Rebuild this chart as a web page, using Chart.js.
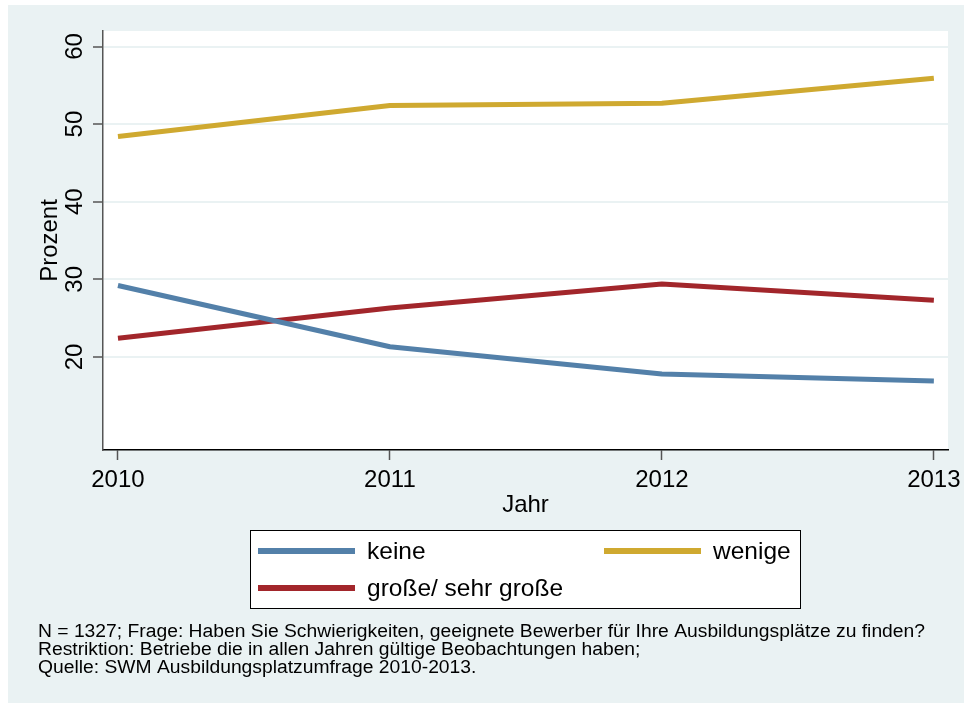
<!DOCTYPE html>
<html>
<head>
<meta charset="utf-8">
<script src="https://cdn.jsdelivr.net/npm/chart.js@4.4.0/dist/chart.umd.min.js"></script>
<style>
  html, body { margin: 0; padding: 0; background: #fff; }
  #wrap { width: 964px; height: 703px; }
</style>
</head>
<body>
<div id="wrap"><canvas id="chart" width="964" height="703"></canvas></div>
<script>
// data
const years = [2010, 2011, 2012, 2013];
const keine = [29.2, 21.3, 17.8, 16.9];
const wenige = [48.4, 52.4, 52.7, 55.9];
const grosse = [22.4, 26.3, 29.4, 27.3];
const yTicks = [20, 30, 40, 50, 60];
const seriesNames = ['keine', 'wenige', 'große/ sehr große'];
const seriesColors = ['#5380A9', '#CFA930', '#A2262B'];
const notes = [
  'N = 1327; Frage: Haben Sie Schwierigkeiten, geeignete Bewerber für Ihre Ausbildungsplätze zu finden?',
  'Restriktion: Betriebe die in allen Jahren gültige Beobachtungen haben;',
  'Quelle: SWM Ausbildungsplatzumfrage 2010-2013.'
];

const FONT = '"Liberation Sans", Arial, sans-serif';
const BG = '#EAF2F3';

function pts(vals) {
  return years.map((yr, i) => ({ x: yr, y: vals[i] }));
}

const bgPlugin = {
  id: 'bg',
  beforeDraw(chart) {
    const ctx = chart.ctx;
    const a = chart.chartArea;
    ctx.save();
    ctx.fillStyle = '#ffffff';
    ctx.fillRect(0, 0, chart.width, chart.height);
    ctx.fillStyle = BG;
    ctx.fillRect(8, 5, chart.width - 8, chart.height - 5);
    ctx.fillStyle = '#ffffff';
    ctx.fillRect(a.left, a.top, a.right - a.left, a.bottom - a.top);
    ctx.restore();
  }
};

const extrasPlugin = {
  id: 'extras',
  afterDraw(chart) {
    const ctx = chart.ctx;
    const ys = chart.scales.y;
    ctx.save();

    // rotated y tick labels
    ctx.fillStyle = '#000';
    ctx.font = '24px ' + FONT;
    ctx.textAlign = 'center';
    ctx.textBaseline = 'middle';
    yTicks.forEach(v => {
      const py = ys.getPixelForValue(v);
      ctx.save();
      ctx.translate(75, py);
      ctx.rotate(-Math.PI / 2);
      ctx.fillText(String(v), 0, 0);
      ctx.restore();
    });

    // legend box
    const bx = 250, by = 530, bw = 550, bh = 78;
    ctx.fillStyle = '#fff';
    ctx.fillRect(bx, by, bw, bh);
    ctx.strokeStyle = '#000';
    ctx.lineWidth = 1;
    ctx.strokeRect(bx + 0.5, by + 0.5, bw, bh);
    const slots = [
      { x: 258, y: 551 },
      { x: 604, y: 551 },
      { x: 258, y: 588 }
    ];
    chart.data.datasets.forEach((ds, i) => {
      const s = slots[i];
      ctx.strokeStyle = ds.borderColor;
      ctx.lineWidth = 6;
      ctx.lineCap = 'butt';
      ctx.beginPath();
      ctx.moveTo(s.x, s.y);
      ctx.lineTo(s.x + 97, s.y);
      ctx.stroke();
      ctx.fillStyle = '#000';
      ctx.font = '24.5px ' + FONT;
      ctx.textAlign = 'left';
      ctx.textBaseline = 'middle';
      ctx.fillText(ds.label, s.x + 109, s.y + 1);
    });

    // footnote, condensed
    ctx.font = '18px ' + FONT;
    ctx.textAlign = 'left';
    ctx.textBaseline = 'middle';
    const w0 = ctx.measureText(notes[0]).width;
    const sx = 887 / w0;
    notes.forEach((t, i) => {
      ctx.save();
      ctx.translate(38, 632 + i * 18);
      ctx.scale(sx, 1);
      ctx.fillText(t, 0, 0);
      ctx.restore();
    });

    ctx.restore();
  }
};

const ctx = document.getElementById('chart').getContext('2d');
const myChart = new Chart(ctx, {
  type: 'line',
  data: {
    datasets: [
      { label: seriesNames[0], data: pts(keine), borderColor: seriesColors[0] },
      { label: seriesNames[1], data: pts(wenige), borderColor: seriesColors[1] },
      { label: seriesNames[2], data: pts(grosse), borderColor: seriesColors[2] }
    ]
  },
  options: {
    responsive: false,
    animation: false,
    layout: { padding: { left: 30, top: 31, right: 16, bottom: 183 } },
    elements: {
      line: { borderWidth: 5, tension: 0, borderCapStyle: 'butt', borderJoinStyle: 'round', fill: false },
      point: { radius: 0, hoverRadius: 0 }
    },
    plugins: {
      legend: { display: false },
      tooltip: { enabled: false }
    },
    scales: {
      x: {
        type: 'linear',
        min: 2009.945,
        max: 2013.052,
        afterBuildTicks: s => { s.ticks = years.map(v => ({ value: v })); },
        afterFit: s => { s.height = 70; s.paddingLeft = 0; s.paddingRight = 0; },
        ticks: {
          color: '#000',
          font: { family: FONT, size: 24 },
          padding: 6,
          maxRotation: 0,
          autoSkip: false,
          callback: v => String(v)
        },
        grid: { drawOnChartArea: false, tickLength: 10, tickColor: '#555', tickWidth: 1.5 },
        border: { color: '#000', width: 1.5 },
        title: {
          display: true,
          text: 'Jahr',
          color: '#000',
          font: { family: FONT, size: 24 },
          padding: { top: 0, bottom: 0 }
        }
      },
      y: {
        min: 8,
        max: 62,
        afterBuildTicks: s => { s.ticks = yTicks.map(v => ({ value: v })); },
        afterFit: s => { s.width = 73; s.paddingTop = 0; s.paddingBottom = 0; },
        ticks: { display: false },
        grid: { color: BG, lineWidth: 2, tickLength: 10, tickColor: '#555', tickWidth: 1.5 },
        border: { color: '#555', width: 1.5 },
        title: {
          display: true,
          text: 'Prozent',
          color: '#000',
          font: { family: FONT, size: 24 },
          padding: { top: 6, bottom: 0 }
        }
      }
    }
  },
  plugins: [bgPlugin, extrasPlugin]
});
</script>
</body>
</html>
